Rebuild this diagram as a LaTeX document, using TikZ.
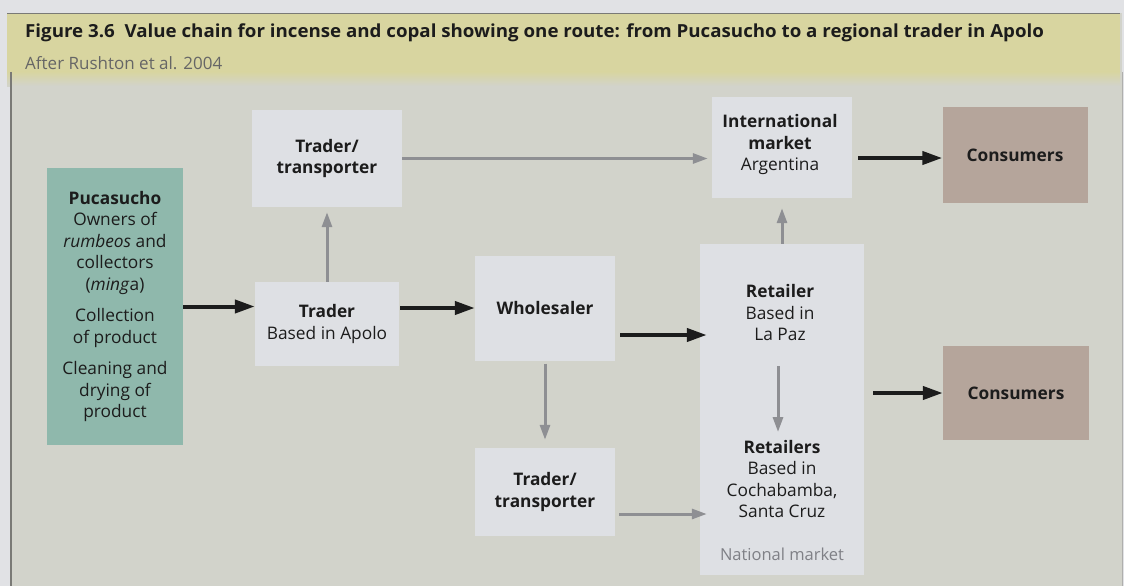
\documentclass[tikz,border=0pt]{standalone}
\usepackage{fontspec}
\setmainfont{Open Sans}
\usetikzlibrary{arrows.meta,calc}
\definecolor{pagebg}{HTML}{E1E2E5}
\definecolor{bodybg}{HTML}{D2D3CB}
\definecolor{bandbg}{HTML}{D8D5A0}
\definecolor{boxbg}{HTML}{DEE0E4}
\definecolor{pucfill}{HTML}{8FB8AC}
\definecolor{consfill}{HTML}{B5A59B}
\definecolor{arrgrey}{HTML}{8E8F93}
\definecolor{natgrey}{HTML}{7F8086}
\definecolor{inkc}{HTML}{1C1C1C}
\definecolor{framec}{HTML}{7A7A76}
\begin{document}
\begin{tikzpicture}[x=1pt,y=-1pt,
  box/.style={fill=boxbg, inner sep=0pt, align=center, text=inkc,
    font=\fontsize{17.3}{21.5}\selectfont},
  lbl/.style={inner sep=0pt, align=center, text=inkc,
    font=\fontsize{17.3}{21.5}\selectfont},
  blk/.style={line width=4pt, inkc, -{Triangle[length=20pt,width=13pt]}},
  gry/.style={line width=3pt, arrgrey, -{Triangle[length=15pt,width=10pt]}},
]
\useasboundingbox (0,0) rectangle (1124,586);
\fill[pagebg] (0,0) rectangle (1124,586);
\fill[bodybg] (11,13) rectangle (1122,586);
\fill[bandbg] (7,13) rectangle (1120,72);
\shade[top color=bandbg, bottom color=bodybg] (7,71.5) rectangle (1120,86);
\draw[framec, line width=1pt] (7,13.5) -- (1120,13.5);
\draw[framec, line width=1.5pt] (11,72) -- (11,586);
\draw[framec!60, line width=1pt] (1122,72) -- (1122,586);

% title
\node[anchor=west, inner sep=0pt, text=inkc] (title) at (25,33)
  {\scalebox{1.04}[1]{\fontsize{18}{20}\selectfont\bfseries Figure 3.6\ \ Value chain for incense and copal showing one route: from Pucasucho to a regional trader in Apolo}};
\node[anchor=west, inner sep=0pt, text=black!60] (source) at (25,63)
  {\fontsize{17}{19}\selectfont After Rushton et al. 2004};

% boxes
\node[box, fill=pucfill, minimum width=136pt, minimum height=277pt] (puc) at (115,306.5)
  {\textbf{Pucasucho}\\Owners of\\\textit{rumbeos} and\\collectors\\(\textit{ming}a)\\[10pt]
   Collection\\of product\\[10pt]Cleaning and\\drying of\\product};
\node[box, minimum width=150pt, minimum height=97pt] (tt1) at (327,158.5)
  {\textbf{Trader/}\\\textbf{transporter}};
\node[box, minimum width=144pt, minimum height=84pt] (traderA) at (327,324)
  {\textbf{Trader}\\Based in Apolo};
\node[box, minimum width=140pt, minimum height=105pt] (whites) at (545,308)
  {\textbf{Wholesaler}};
\node[box, minimum width=140pt, minimum height=88pt] (tt2) at (545,492)
  {\textbf{Trader/}\\\textbf{transporter}};
\node[box, minimum width=164pt, minimum height=331pt] (retail) at (782,409.5) {};
\node[box, minimum width=140pt, minimum height=101pt] (intl) at (782,147.5) {};
\node[lbl] (intltxt) at (780,145) {\textbf{International}\\\textbf{market}\\Argentina};
\node[box, fill=consfill, minimum width=145pt, minimum height=96pt] (cons1) at (1015,155)
  {\textbf{Consumers}};
\node[box, fill=consfill, minimum width=146pt, minimum height=94pt] (cons2) at (1016,393)
  {\textbf{Consumers}};

\node[lbl] (lapaz) at (780,313) {\textbf{Retailer}\\Based in\\La Paz};
\node[lbl] (cocha) at (782,479) {\textbf{Retailers}\\Based in\\Cochabamba,\\Santa Cruz};
\node[lbl, text=natgrey, font=\fontsize{16.5}{18}\selectfont] (natl) at (782,554) {National market};

% connectors
\draw[blk] (puc.east) -- (puc.east -| traderA.west);
\draw[gry, shorten >=5pt] (traderA.north) -- (tt1.south);
\draw[gry, shorten >=4pt] (tt1.east) -- (tt1.east -| intl.west);
\draw[blk] ($(traderA.east |- whites.west)+(1,0)$) -- (whites.west);
\draw[blk] ($(whites.east)+(5,27)$) -- ($(retail.west |- whites.east)+(7,27)$);
\draw[gry, shorten <=3pt, shorten >=8pt] (whites.south) -- (tt2.north);
\draw[gry] ($(tt2.east)+(4,22)$) -- ($(retail.west |- tt2.east)+(7,22)$);
\draw[gry, shorten >=10pt] (retail.north) -- (intl.south);
\draw[gry] ($(lapaz.center)+(-2,53)$) -- ($(lapaz.center)+(-2,119)$);
\draw[blk] ($(intl.east)+(6,10.5)$) -- ($(cons1.west |- intl.east)+(0,10.5)$);
\draw[blk] ($(retail.east |- cons2.west)+(9,0)$) -- (cons2.west);
\end{tikzpicture}
\end{document}
